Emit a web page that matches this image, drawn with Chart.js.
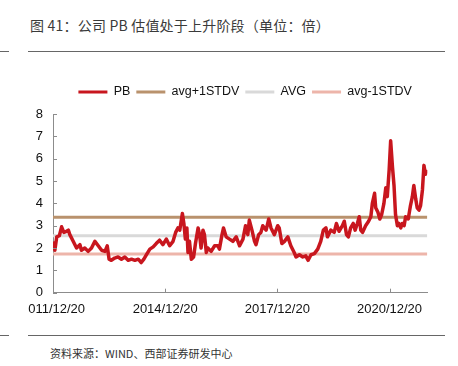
<!DOCTYPE html>
<html>
<head>
<meta charset="utf-8">
<script src="https://cdn.jsdelivr.net/npm/chart.js@4.4.1/dist/chart.umd.min.js"></script>
<style>
  html, body { margin: 0; padding: 0; background: #fff; }
  body { width: 458px; height: 366px; position: relative; overflow: hidden; }
  .title { position: absolute; left: 30px; top: 15px; font: 14px "Noto Sans CJK SC", sans-serif; color: #3a3a3a; white-space: nowrap; line-height: 20px; letter-spacing: 0.2px; }
  .rule { position: absolute; height: 1px; background: #666; }
  .source { position: absolute; left: 50px; top: 345px; font: 11px "Noto Sans CJK SC", sans-serif; color: #333; white-space: nowrap; line-height: 16px; }
  #wrap { position: absolute; left: 28px; top: 0; width: 430px; height: 366px; }
</style>
</head>
<body>
<div class="title">图 41：公司 PB 估值处于上升阶段（单位：倍）</div>
<div class="rule" style="left:0;width:9px;top:51px"></div>
<div class="rule" style="left:28px;width:417px;top:51px"></div>
<div class="rule" style="left:0;width:9px;top:335px"></div>
<div class="rule" style="left:28px;width:417px;top:335px"></div>
<div class="source">资料来源：WIND、西部证券研发中心</div>
<div id="wrap"><canvas id="c" width="430" height="366"></canvas></div>
<script>
// ---- data ----
const timeYears = [
2011.98,2012.02,2012.07,2012.14,2012.20,2012.26,2012.33,2012.38,2012.42,2012.51,
2012.60,2012.69,2012.73,2012.82,2012.91,2013.00,2013.09,2013.18,2013.27,2013.36,
2013.42,2013.47,2013.53,2013.62,2013.71,2013.80,2013.89,2013.98,2014.07,2014.16,
2014.25,2014.33,2014.40,2014.47,2014.56,2014.65,2014.73,2014.82,2014.91,2015.00,
2015.09,2015.18,2015.25,2015.31,2015.36,2015.43,2015.47,2015.51,2015.55,2015.58,
2015.62,2015.67,2015.73,2015.78,2015.85,2015.89,2015.93,2015.98,2016.02,2016.07,
2016.11,2016.20,2016.29,2016.38,2016.42,2016.49,2016.53,2016.60,2016.69,2016.78,
2016.87,2016.96,2017.05,2017.12,2017.18,2017.22,2017.29,2017.36,2017.40,2017.47,
2017.53,2017.58,2017.67,2017.74,2017.80,2017.89,2017.98,2018.02,2018.09,2018.16,
2018.25,2018.33,2018.42,2018.47,2018.56,2018.65,2018.73,2018.79,2018.87,2018.96,
2019.05,2019.13,2019.20,2019.27,2019.31,2019.40,2019.49,2019.55,2019.62,2019.71,
2019.76,2019.82,2019.87,2019.93,2020.00,2020.05,2020.11,2020.16,2020.20,2020.25,
2020.33,2020.41,2020.47,2020.51,2020.57,2020.60,2020.66,2020.71,2020.76,2020.82,
2020.87,2020.91,2020.96,2021.00,2021.05,2021.09,2021.13,2021.18,2021.22,2021.27,
2021.31,2021.36,2021.40,2021.47,2021.53,2021.58,2021.62,2021.67,2021.71,2021.76,
2021.80,2021.85,2021.89,2021.93,2021.98
];
const pbValues = [
2.3,1.9,2.5,2.55,2.95,2.7,2.75,2.8,2.6,2.3,
2.0,2.15,1.9,2.0,1.85,2.0,2.3,2.1,1.9,1.85,
2.1,1.5,1.45,1.55,1.6,1.5,1.6,1.45,1.5,1.45,
1.5,1.35,1.5,1.7,1.95,2.05,2.2,2.35,2.15,2.4,
2.1,2.3,2.7,2.9,2.8,3.55,3.1,2.4,2.9,1.8,
2.3,1.5,1.6,2.2,2.9,2.6,2.0,2.8,2.6,1.8,
2.0,1.85,2.1,2.1,1.95,2.6,2.9,2.5,2.4,2.3,
2.5,2.1,2.4,3.0,2.6,3.25,2.8,2.3,2.15,2.6,
2.7,3.0,2.8,3.3,2.9,2.6,3.0,2.9,2.2,2.3,
2.5,2.1,1.8,1.6,1.7,1.6,1.65,1.45,1.7,1.75,
1.95,2.3,2.8,2.9,2.5,2.8,2.7,3.1,2.75,3.0,
3.2,2.6,2.5,2.9,3.1,2.8,3.1,3.4,2.8,2.7,
3.0,3.2,3.4,4.0,4.45,3.8,3.6,3.3,3.5,4.0,
4.7,4.3,5.5,6.8,5.6,4.8,3.5,3.0,3.1,2.9,
3.1,3.0,3.4,3.3,3.9,4.3,4.8,4.2,3.8,3.7,
3.9,4.6,5.7,5.3,5.5
];
const avgPlus1 = 3.38;
const avgValue = 2.55;
const avgMinus1 = 1.73;
const seriesNames = ['PB', 'avg+1STDV', 'AVG', 'avg-1STDV'];
const tickYears = [2011.97, 2014.97, 2017.97, 2020.97];
const tickLabels = ['2011/12/20', '2014/12/20', '2017/12/20', '2020/12/20'];
const xMin = 2011.97, xMax = 2021.98;

// ---- build ----
const pbPoints = timeYears.map((t, i) => ({ x: t, y: pbValues[i] }));
const flat = v => [{ x: xMin, y: v }, { x: xMax, y: v }];

Chart.defaults.font.family = '"Liberation Sans", Arial, sans-serif';
Chart.defaults.color = '#111';

const axisColor = '#8c8c8c';

const innerTicks = {
  id: 'innerTicks',
  afterDraw(chart) {
    const ctx = chart.ctx;
    const xs = chart.scales.x, ys = chart.scales.y;
    ctx.save();
    ctx.strokeStyle = axisColor;
    ctx.lineWidth = 1;
    ctx.beginPath();
    ys.ticks.forEach((t, i) => {
      const py = Math.round(ys.getPixelForTick(i)) + 0.5;
      ctx.moveTo(xs.left, py); ctx.lineTo(xs.left + 4, py);
    });
    xs.ticks.forEach((t, i) => {
      const px = Math.round(xs.getPixelForTick(i)) + 0.5;
      ctx.moveTo(px, ys.bottom); ctx.lineTo(px, ys.bottom - 4);
    });
    ctx.stroke();
    ctx.restore();
  }
};

const legendTweak = {
  id: 'legendTweak',
  beforeUpdate(chart) {
    const lg = chart.legend;
    if (lg && !lg._patched) {
      const orig = lg.fit;
      lg.fit = function () { orig.call(this); this.height += 5.75; };
      lg._patched = true;
    }
  },
  afterLayout(chart) {
    const lg = chart.legend;
    if (lg) { lg.left += 5; lg.right += 5; }
  }
};

new Chart(document.getElementById('c'), {
  type: 'line',
  data: {
    datasets: [
      { label: seriesNames[0], data: pbPoints, borderColor: '#C8161E', backgroundColor: '#C8161E', borderWidth: 3.5, pointRadius: 0, tension: 0, borderJoinStyle: 'round' },
      { label: seriesNames[1], data: flat(avgPlus1), borderColor: '#B9926D', backgroundColor: '#B9926D', borderWidth: 3, pointRadius: 0 },
      { label: seriesNames[2], data: flat(avgValue), borderColor: '#D9D9D9', backgroundColor: '#D9D9D9', borderWidth: 3, pointRadius: 0 },
      { label: seriesNames[3], data: flat(avgMinus1), borderColor: '#EDB5AA', backgroundColor: '#EDB5AA', borderWidth: 3, pointRadius: 0 }
    ]
  },
  options: {
    responsive: false,
    animation: false,
    events: [],
    layout: { padding: { top: 79.75, left: 0, right: 30.7, bottom: 43.3 } },
    plugins: {
      tooltip: { enabled: false },
      legend: {
        position: 'top',
        fullSize: false,
        labels: {
          boxWidth: 29,
          boxHeight: 3,
          padding: 6,
          color: '#111',
          font: { size: 12.5 },
          generateLabels(chart) {
            const items = Chart.defaults.plugins.legend.labels.generateLabels(chart);
            items.forEach(it => { it.fillStyle = it.strokeStyle; it.lineWidth = 0; });
            return items;
          }
        }
      }
    },
    scales: {
      x: {
        type: 'linear',
        min: xMin,
        max: xMax,
        grid: { display: false, drawTicks: false },
        border: { display: true, color: axisColor, width: 1 },
        afterBuildTicks(scale) { scale.ticks = tickYears.map(v => ({ value: v })); },
        afterFit(scale) { scale.height = 30; scale.paddingLeft = 0; scale.paddingRight = 0; },
        ticks: {
          autoSkip: false, maxRotation: 0, minRotation: 0, padding: 9,
          font: { size: 13 }, color: '#111',
          callback(value, index) { return tickLabels[index]; }
        }
      },
      y: {
        min: 0, max: 8,
        grid: { display: false, drawTicks: false },
        border: { display: true, color: axisColor, width: 1 },
        afterFit(scale) { scale.width = 25; },
        ticks: { stepSize: 1, padding: 10, font: { size: 13 }, color: '#111' }
      }
    }
  },
  plugins: [innerTicks, legendTweak]
});
</script>
</body>
</html>
